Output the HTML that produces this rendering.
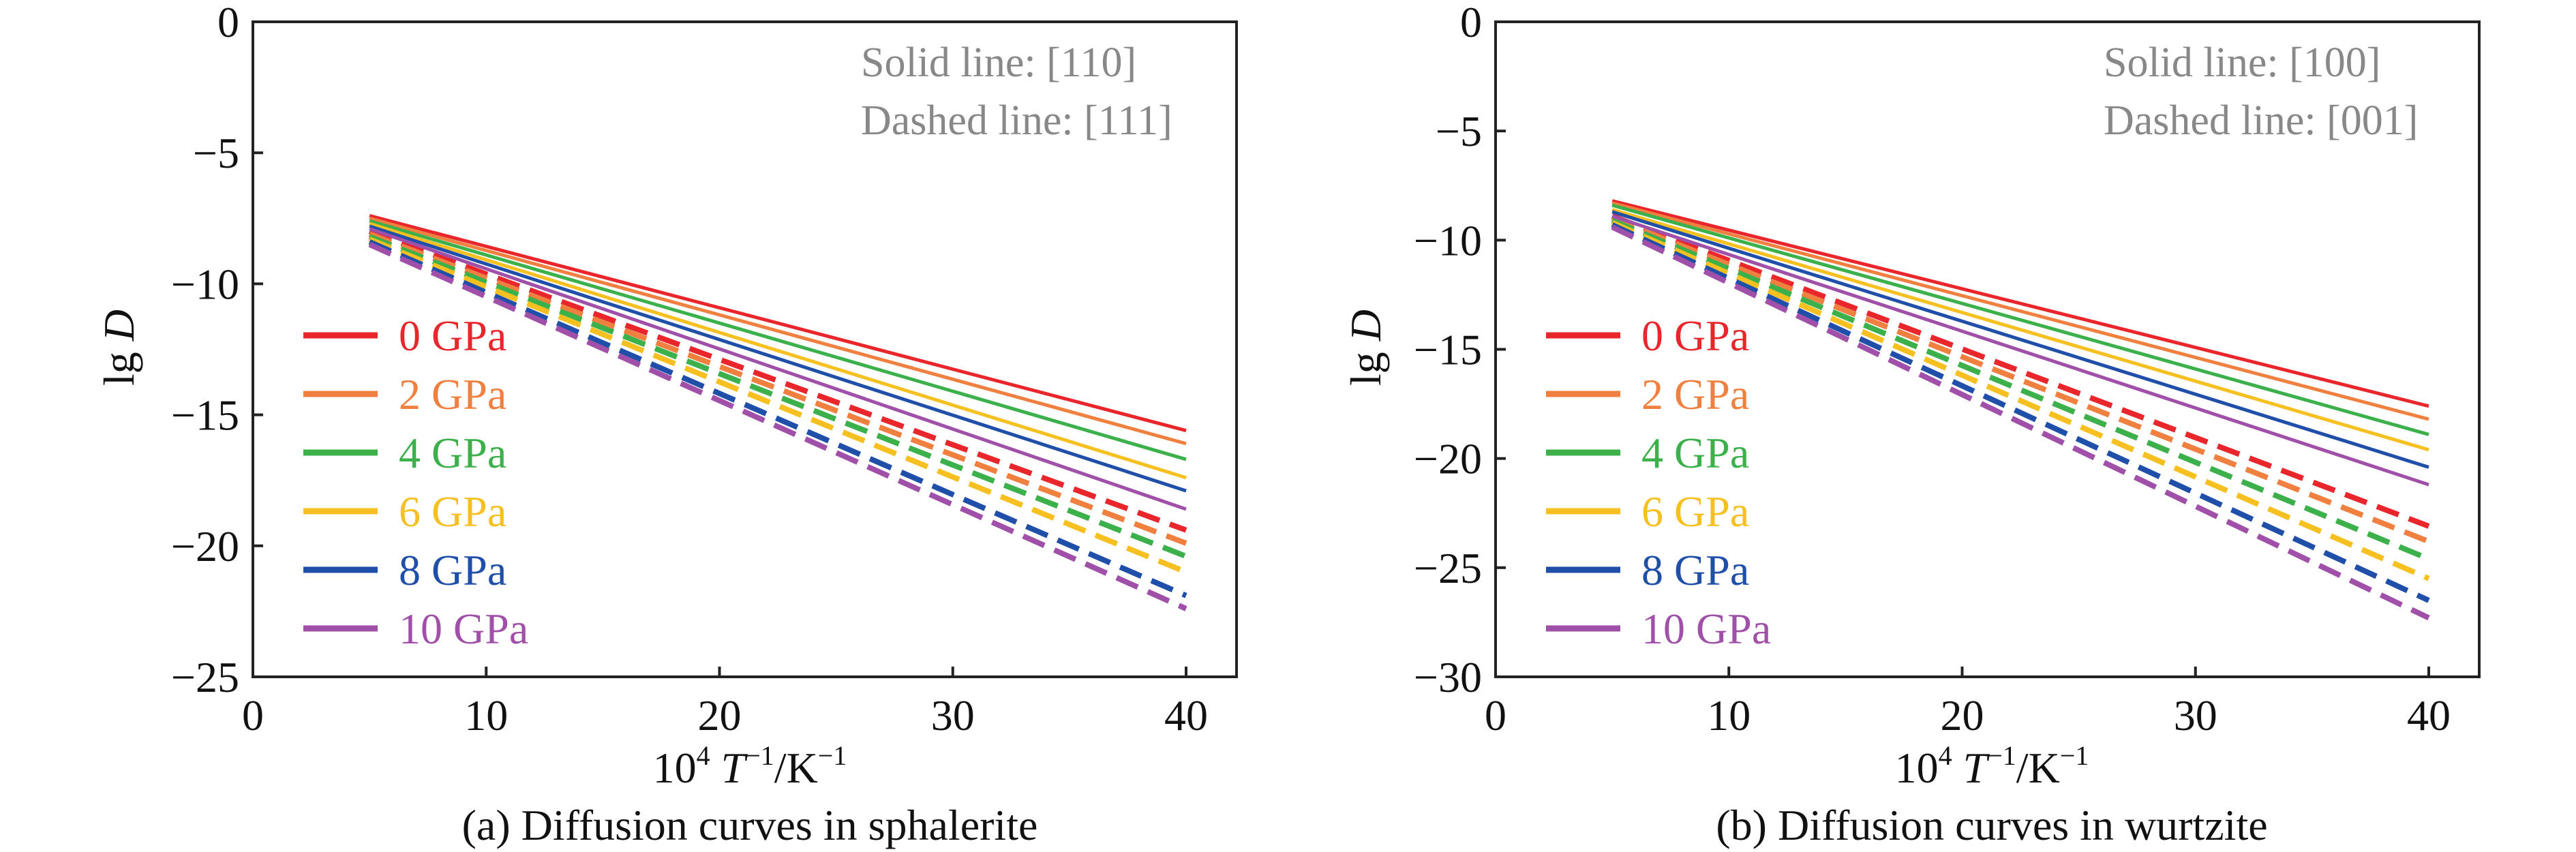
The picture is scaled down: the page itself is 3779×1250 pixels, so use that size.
<!DOCTYPE html>
<html><head><meta charset="utf-8"><style>
html,body{margin:0;padding:0;background:#fff}
svg{display:block}
text{font-family:"Liberation Serif",serif}
</style></head><body>
<svg id="fig" width="3779" height="1250" viewBox="0 0 3779 1250" xmlns="http://www.w3.org/2000/svg"></svg>
<script>
const pressures = ["0 GPa","2 GPa","4 GPa","6 GPa","8 GPa","10 GPa"];
const colors = ["#e8262b","#f08040","#3cb04a","#f5c020","#1f4fa8","#a050a8"];
const xValues = [5, 40];
const xTicks = [0,10,20,30,40];
// Panel a (sphalerite)
const aSolidStart = [-7.4,-7.5,-7.6,-7.7,-7.8,-7.9];
const aSolidEnd = [-15.6,-16.1,-16.7,-17.4,-17.9,-18.6];
const aDashStart = [-8.0,-8.1,-8.2,-8.3,-8.4,-8.5];
const aDashEnd = [-19.4,-19.9,-20.4,-21.0,-21.9,-22.4];
const aYTicks = [0,-5,-10,-15,-20,-25];
// Panel b (wurtzite)
const bSolidStart = [-8.2,-8.3,-8.4,-8.6,-8.7,-8.9];
const bSolidEnd = [-17.6,-18.2,-18.9,-19.6,-20.4,-21.2];
const bDashStart = [-8.9,-9.0,-9.1,-9.2,-9.3,-9.4];
const bDashEnd = [-23.1,-23.8,-24.6,-25.5,-26.5,-27.3];
const bYTicks = [0,-5,-10,-15,-20,-25,-30];

const NS="http://www.w3.org/2000/svg";
const svg=document.getElementById('fig');
function mk(tag,attrs,parent){const e=document.createElementNS(NS,tag);for(const k in attrs)e.setAttribute(k,attrs[k]);(parent||svg).appendChild(e);return e;}

function panel(cfg){
  const g=mk('g',{});
  
  
  const L=cfg.left,R=cfg.left+1443,T=32,B=993;
  const xs=v=>L+v*(1369/40);
  const ys=v=>T+(v/cfg.ymin)*(B-T);
  // series
  for(let i=0;i<pressures.length;i++){
    const d=mk('line',{x1:xs(xValues[0]),y1:ys(cfg.dS[i]),x2:xs(xValues[1]),y2:ys(cfg.dE[i]),stroke:colors[i],'stroke-width':8,'stroke-dasharray':'34 16'},g);
    
    
  }
  for(let i=0;i<pressures.length;i++){
    const s=mk('line',{x1:xs(xValues[0]),y1:ys(cfg.sS[i]),x2:xs(xValues[1]),y2:ys(cfg.sE[i]),stroke:colors[i],'stroke-width':5},g);
    
    
  }
  // frame
  const f=mk('rect',{x:L,y:T,width:R-L,height:B-T,fill:'none',stroke:'#222','stroke-width':4},g);
  
  
  // x ticks
  xTicks.forEach(t=>{
    if(t>0){mk('line',{x1:xs(t),y1:B,x2:xs(t),y2:B-15,stroke:'#222','stroke-width':4},g);}
    const tx=mk('text',{x:xs(t),y:B+78,'font-size':64,'text-anchor':'middle',fill:'#111'},g);
    tx.textContent=t;
    
    
  });
  cfg.yt.forEach(t=>{
    if(t!==0&&t!==cfg.ymin){mk('line',{x1:L,y1:ys(t),x2:L+15,y2:ys(t),stroke:'#222','stroke-width':4},g);}
    const ty=mk('text',{x:L-20,y:ys(t)+22,'font-size':64,'text-anchor':'end',fill:'#111'},g);
    ty.textContent=t===0?'0':'\u2212'+Math.abs(t);
    
    
  });
  // legend
  for(let i=0;i<pressures.length;i++){
    const y=492+i*86;
    const ll=mk('line',{x1:L+74,y1:y,x2:L+183,y2:y,stroke:colors[i],'stroke-width':9},g);
    
    
    const lt=mk('text',{x:L+214,y:y+22,'font-size':64,fill:colors[i]},g);
    lt.textContent=pressures[i];
    
    
  }
  // annotations
  const a1=mk('text',{x:L+892,y:112,'font-size':62,fill:'#888'},g);
  a1.textContent=cfg.solid;
  
  
  const a2=mk('text',{x:L+892,y:197,'font-size':62,fill:'#888'},g);
  a2.textContent=cfg.dashed;
  
  
  // y title
  const yt=mk('text',{x:0,y:0,'font-size':64,'text-anchor':'middle',fill:'#111',transform:`translate(${cfg.ytx},510) rotate(-90)`},g);
  yt.innerHTML='lg <tspan font-style="italic">D</tspan>';
  
  
  // x title
  const xt=mk('text',{x:cfg.xtx,y:1148,'font-size':64,'text-anchor':'middle',fill:'#111'},g);
  xt.innerHTML='10<tspan font-size="40" dy="-26">4</tspan><tspan dy="26"> </tspan><tspan font-style="italic">T</tspan><tspan font-size="40" dy="-26">\u22121</tspan><tspan dy="26">/K</tspan><tspan font-size="40" dy="-26">\u22121</tspan>';
  
  
  const cap=mk('text',{x:cfg.xtx,y:1232,'font-size':64,'text-anchor':'middle',fill:'#111'},g);
  cap.textContent=cfg.caption;
  
  
}
panel({name:'panel-a-sphalerite',left:371,ymin:-25,yt:aYTicks,sS:aSolidStart,sE:aSolidEnd,dS:aDashStart,dE:aDashEnd,solid:'Solid line: [110]',dashed:'Dashed line: [111]',ytx:196,xtx:1100,caption:'(a) Diffusion curves in sphalerite'});
panel({name:'panel-b-wurtzite',left:2194,ymin:-30,yt:bYTicks,sS:bSolidStart,sE:bSolidEnd,dS:bDashStart,dE:bDashEnd,solid:'Solid line: [100]',dashed:'Dashed line: [001]',ytx:2025,xtx:2922,caption:'(b) Diffusion curves in wurtzite'});
</script>
</body></html>
